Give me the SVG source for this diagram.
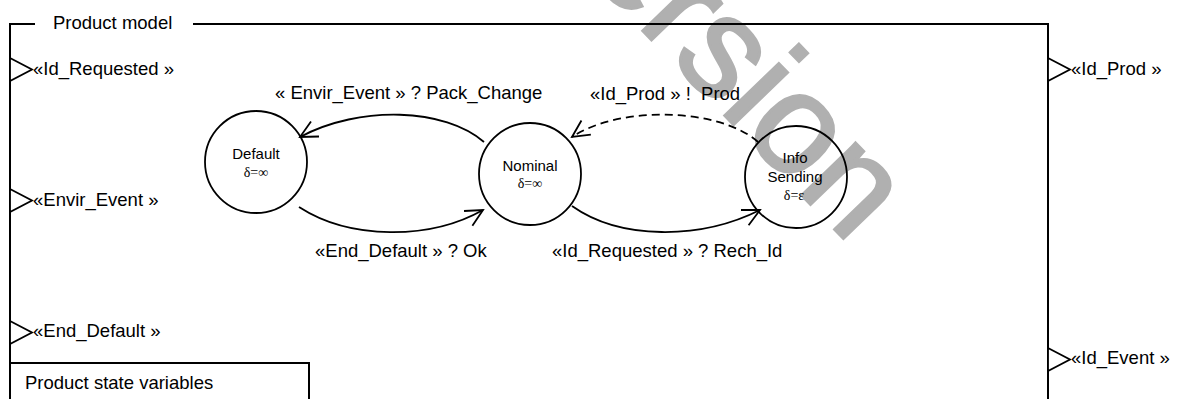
<svg xmlns="http://www.w3.org/2000/svg" width="1181" height="399" viewBox="0 0 1181 399">
  <defs>
    <style>
      .t { font-family: "Liberation Sans", Arial, sans-serif; font-size: 18.5px; fill: #000; }
      .n { font-family: "Liberation Sans", Arial, sans-serif; font-size: 15px; fill: #000; text-anchor: middle; }
      .d { font-family: "Liberation Serif", "DejaVu Serif", serif; font-size: 14px; fill: #000; text-anchor: middle; }
      .frame { fill: none; stroke: #000; stroke-width: 2; }
      .port { fill: #fff; stroke: #000; stroke-width: 1.8; stroke-linejoin: miter; }
      .state { fill: none; stroke: #000; stroke-width: 1.8; }
      .conn { fill: none; stroke: #000; stroke-width: 1.8; }
      .dash { stroke-dasharray: 8 5; }
      .wm { font-family: "Liberation Sans", Arial, sans-serif; font-size: 142px; fill: #b0b0b0; stroke: #b0b0b0; stroke-width: 3; text-anchor: middle; }
    </style>
    <marker id="arrow" markerUnits="userSpaceOnUse" viewBox="-20 -12 22 24" refX="0" refY="0" markerWidth="22" markerHeight="24" orient="auto" overflow="visible">
      <path d="M-17,-8.5 L0,0 L-17,8.5" fill="none" stroke="#000" stroke-width="1.8" stroke-dasharray="none"/>
    </marker>
  </defs>

  <g id="watermark">
    <text class="wm" transform="translate(712,49) rotate(46)" x="0" y="37">Version</text>
  </g>

  <g id="frame">
    <path class="frame" d="M10,399 V24 H35 M193,24 H1048 V399"/>
    <text class="t" x="53" y="29">Product model</text>
  </g>

  <g id="port-id-requested">
    <polygon class="port" points="10,58 32,69.5 10,81"/>
    <text class="t" x="33" y="75">«Id_Requested »</text>
  </g>
  <g id="port-envir-event">
    <polygon class="port" points="10,189 32,200.5 10,212"/>
    <text class="t" x="33" y="206">«Envir_Event »</text>
  </g>
  <g id="port-end-default">
    <polygon class="port" points="10,321 32,332.5 10,344"/>
    <text class="t" x="33" y="337">«End_Default »</text>
  </g>
  <g id="port-id-prod">
    <polygon class="port" points="1048,58 1070,69.5 1048,81"/>
    <text class="t" x="1071" y="75">«Id_Prod »</text>
  </g>
  <g id="port-id-event">
    <polygon class="port" points="1048,348 1070,359.5 1048,371"/>
    <text class="t" x="1071" y="364">«Id_Event »</text>
  </g>

  <g id="state-variables">
    <path class="frame" d="M10,399 V363 H309 V399"/>
    <text class="t" x="25" y="389">Product state variables</text>
  </g>

  <g id="node-default">
    <circle class="state" cx="256" cy="162" r="51"/>
    <text class="n" x="256" y="159">Default</text>
    <text class="d" x="256" y="177">δ=∞</text>
  </g>
  <g id="node-nominal">
    <circle class="state" cx="530" cy="174" r="51"/>
    <text class="n" x="530" y="171">Nominal</text>
    <text class="d" x="530" y="188">δ=∞</text>
  </g>
  <g id="node-info-sending">
    <circle class="state" cx="796" cy="177" r="51"/>
    <text class="n" x="795" y="163">Info</text>
    <text class="n" x="795" y="182">Sending</text>
    <text class="d" x="794" y="200">δ=ε</text>
  </g>

  <g id="connectors">
    <path class="conn" d="M484,142 C445,108 360,105 300,137" marker-end="url(#arrow)"/>
    <path class="conn" d="M299,207 C350,240 430,240 483,210" marker-end="url(#arrow)"/>
    <path class="conn" d="M572,206 C620,240 700,240 760,210" marker-end="url(#arrow)"/>
    <path class="conn dash" d="M758,142 C720,108 620,105 572,137" marker-end="url(#arrow)"/>
    <text class="t" x="275" y="99">« Envir_Event » ? Pack_Change</text>
    <text class="t" x="590" y="100" xml:space="preserve">«Id_Prod » !  Prod</text>
    <text class="t" x="315" y="257">«End_Default » ? Ok</text>
    <text class="t" x="552" y="257">«Id_Requested » ? Rech_Id</text>
  </g>
</svg>
